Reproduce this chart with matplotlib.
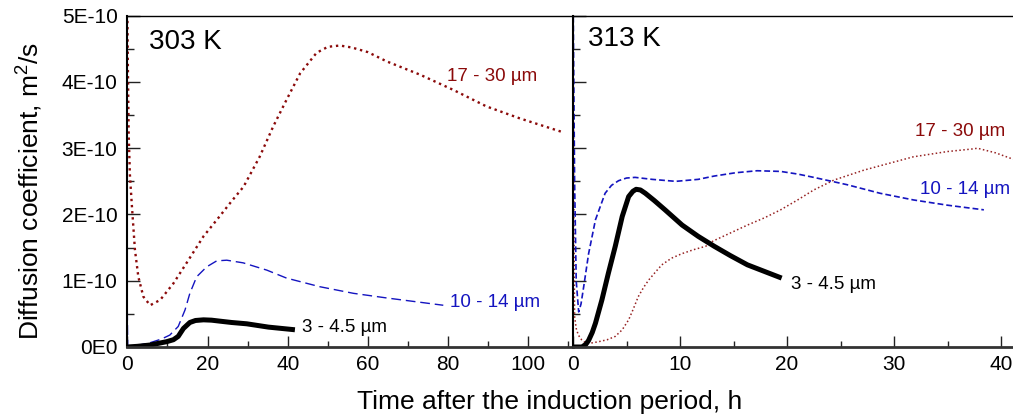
import numpy as np
import matplotlib
matplotlib.use("Agg")
import matplotlib.pyplot as plt
from matplotlib.ticker import MultipleLocator, FixedLocator, FixedFormatter

plt.rcParams['font.family'] = ['Liberation Sans', 'DejaVu Sans']
plt.rcParams['mathtext.default'] = 'regular'

SCALE = 1e-10

# ---- 303 K data (time h, D in units of 1e-10 m2/s) ----
t303_large = [0.0, 0.15, 0.35, 0.65, 1.1, 1.9, 2.75, 4.0, 5.7, 8.2, 11.5, 14.8, 19.0, 23.0, 26.0,
              29.0, 33.0, 36.4, 39.7, 43.1, 47.2, 50.0, 53.0, 56.0, 60.0, 64.7, 73.0, 81.3, 89.6, 97.9, 108.7]
d303_large = [5.2, 4.2, 3.2, 2.6, 2.17, 1.47, 1.06, 0.76, 0.63, 0.71, 0.96, 1.27, 1.67, 1.97, 2.2,
              2.42, 2.87, 3.33, 3.73, 4.13, 4.44, 4.53, 4.55, 4.52, 4.45, 4.31, 4.11, 3.88, 3.63, 3.45, 3.24]

t303_mid = [0.0, 0.1, 0.67, 3.0, 5.7, 8.5, 10.6, 12.7, 14.4, 15.6, 17.3, 19.8, 22.3, 24.8, 28.9,
            34.8, 39.7, 48.0, 56.4, 64.7, 78.8]
d303_mid = [0.55, 0.02, 0.0, 0.03, 0.065, 0.12, 0.18, 0.31, 0.56, 0.81, 1.06, 1.21, 1.30, 1.31, 1.27,
            1.16, 1.04, 0.91, 0.81, 0.74, 0.63]

t303_small = [0.0, 2.5, 5.7, 9.8, 11.5, 12.7, 14.0, 15.6, 17.0, 19.0, 21.0, 23.1, 26.0, 29.8, 35.2, 41.8]
d303_small = [0.0, 0.01, 0.03, 0.08, 0.11, 0.16, 0.28, 0.37, 0.40, 0.41, 0.405, 0.39, 0.37, 0.35, 0.30, 0.26]

# ---- 313 K data ----
t313_large = [0.0, 0.08, 0.15, 0.3, 0.5, 0.8, 1.15, 1.7, 2.4, 3.2, 3.95, 4.6, 5.2, 5.6, 6.1, 6.6, 7.07,
              7.7, 8.3, 9.2, 10.2, 11.3, 12.4, 13.1, 14.7, 16.3, 17.9, 19.4, 21.0, 22.5, 24.4,
              27.2, 29.5, 31.8, 35.0, 37.4, 37.8, 39.5, 41.2]
d313_large = [5.2, 2.0, 0.46, 0.28, 0.18, 0.11, 0.065, 0.06, 0.08, 0.11, 0.16, 0.26, 0.41, 0.56, 0.76,
              0.9, 1.01, 1.13, 1.24, 1.34, 1.41, 1.47, 1.52, 1.60, 1.72, 1.84, 1.95, 2.07, 2.22, 2.37, 2.52,
              2.67, 2.77, 2.87, 2.95, 2.99, 3.0, 2.93, 2.83]

t313_mid = [0.0, 0.15, 0.3, 0.53, 0.75, 1.0, 1.46, 2.1, 3.0, 3.6, 4.26, 5.0, 5.8, 7.4, 9.6, 11.7, 13.2,
            15.2, 17.2, 19.4, 21.0, 22.5, 25.6, 28.7, 31.8, 35.0, 38.4]
d313_mid = [5.5, 2.5, 1.0, 0.53, 0.65, 0.91, 1.41, 1.92, 2.32, 2.44, 2.51, 2.55, 2.56, 2.53, 2.50, 2.53, 2.58,
            2.63, 2.66, 2.65, 2.61, 2.56, 2.45, 2.32, 2.22, 2.14, 2.07]

t313_small = [0.0, 0.84, 1.2, 1.46, 1.8, 2.1, 2.7, 3.3, 3.95, 4.6, 5.2, 5.6, 5.9, 6.3, 6.76, 7.6, 8.6,
              10.2, 11.7, 13.2, 14.7, 16.3, 17.9, 19.5]
d313_small = [0.0, 0.0, 0.04, 0.1, 0.22, 0.36, 0.71, 1.11, 1.52, 1.97, 2.27, 2.35, 2.38, 2.37, 2.32, 2.21, 2.07,
              1.84, 1.67, 1.52, 1.38, 1.24, 1.14, 1.04]

y_ticks = [0, 1, 2, 3, 4, 5]
y_tick_labels = ["0E0", "1E-10", "2E-10", "3E-10", "4E-10", "5E-10"]
x303_ticks = [0, 20, 40, 60, 80, 100]
x313_ticks = [0, 10, 20, 30, 40]

labels = ["17 - 30 \u00b5m", "10 - 14 \u00b5m", "3 - 4.5 \u00b5m"]
panel_titles = ["303 K", "313 K"]

RED = '#8B0A0A'
BLUE = '#1414C0'
BLACK = '#000000'

W, H = 1013, 420
fig = plt.figure(figsize=(W / 100, H / 100), dpi=100)

y0 = 1 - 347 / H
hgt = (347 - 15.7) / H
axL = fig.add_axes([127.3 / W, y0, (573 - 127.3) / W, hgt])
axR = fig.add_axes([573 / W, y0, (W - 573 + 2) / W, hgt])

def sc(a):
    return np.array(a) * SCALE

# left panel
axL.plot(t303_large, sc(d303_large), color=RED, ls=(0, (1, 1.6)), lw=1.7)
axL.plot(t303_mid, sc(d303_mid), color=BLUE, ls=(0, (7, 3.5)), lw=1.0)
axL.plot(t303_small, sc(d303_small), color=BLACK, ls='-', lw=3.6, solid_capstyle='butt')

# right panel
axR.plot(t313_large, sc(d313_large), color=RED, ls=(0, (1, 1.6)), lw=1.1, alpha=0.9)
axR.plot(t313_mid, sc(d313_mid), color=BLUE, ls=(0, (3.5, 1.8)), lw=1.2)
axR.plot(t313_small, sc(d313_small), color=BLACK, ls='-', lw=3.6, solid_capstyle='butt')

axL.set_xlim(0, (573 - 127.3) / 4.01)
axR.set_xlim(0, (W - 573 + 2) / 10.7)
for ax in (axL, axR):
    ax.set_ylim(0, 5 * SCALE)
    ax.yaxis.set_major_locator(FixedLocator([v * SCALE for v in y_ticks]))
    ax.yaxis.set_minor_locator(MultipleLocator(0.5 * SCALE))
    ax.tick_params(axis='both', which='both', direction='in', top=False, right=False,
                   labelsize=15, color='#222222')
    ax.tick_params(axis='y', which='major', length=9, width=1.0)
    ax.tick_params(axis='y', which='minor', length=5, width=1.0)
    ax.tick_params(axis='x', which='major', length=8, width=1.0, pad=6)
    ax.tick_params(axis='x', which='minor', length=4, width=1.0)
    ax.spines['right'].set_visible(False)
    ax.spines['top'].set_linewidth(1.0)
    ax.spines['bottom'].set_linewidth(2.0)
    ax.spines['bottom'].set_color('#333333')
    ax.spines['left'].set_linewidth(1.5)
    ax.patch.set_alpha(0)

axL.yaxis.set_major_formatter(FixedFormatter(y_tick_labels))
axL.tick_params(axis='y', pad=7)
axR.tick_params(axis='y', labelleft=False)

axL.xaxis.set_major_locator(FixedLocator(x303_ticks))
axL.xaxis.set_minor_locator(MultipleLocator(10))
axR.xaxis.set_major_locator(FixedLocator(x313_ticks))
axR.xaxis.set_minor_locator(MultipleLocator(5))

# panel titles
axL.text(5.5, 4.6 * SCALE, panel_titles[0], fontsize=20, va='center', ha='left')
axR.text(1.4, 4.65 * SCALE, panel_titles[1], fontsize=20, va='center', ha='left')

# curve labels
axL.text(79.7, 4.08 * SCALE, labels[0], color=RED, fontsize=13.5, va='center', ha='left')
axL.text(80.5, 0.665 * SCALE, labels[1], color=BLUE, fontsize=13.5, va='center', ha='left')
axL.text(43.6, 0.287 * SCALE, labels[2], color=BLACK, fontsize=13.5, va='center', ha='left')
axR.text(32.0, 3.25 * SCALE, labels[0], color=RED, fontsize=13.5, va='center', ha='left')
axR.text(32.4, 2.37 * SCALE, labels[1], color=BLUE, fontsize=13.5, va='center', ha='left', clip_on=False)
axR.text(20.4, 0.95 * SCALE, labels[2], color=BLACK, fontsize=13.5, va='center', ha='left')

fig.text(550 / W, 1 - 402 / H, "Time after the induction period, h", fontsize=19,
         ha='center', va='center')
fig.text(30 / W, 1 - 191 / H, "Diffusion coefficient, m$^2$/s", fontsize=19,
         ha='center', va='center', rotation=90)

fig.savefig("out.png", dpi=100)
